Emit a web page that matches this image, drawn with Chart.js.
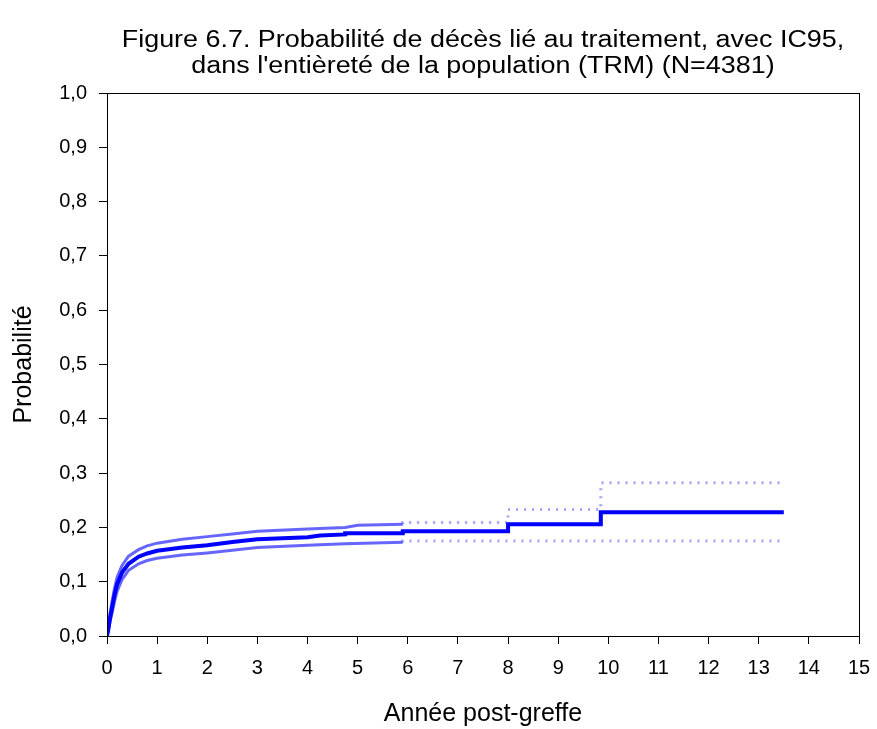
<!DOCTYPE html>
<html>
<head>
<meta charset="utf-8">
<script src="https://cdn.jsdelivr.net/npm/chart.js@4"></script>
<style>
  body { margin: 0; background: #ffffff; }
  canvas { display: block; }
</style>
</head>
<body>
<canvas id="trm_chart" width="877" height="729"></canvas>
<script>
// titre du graphique
const titleLines = [
    'Figure 6.7. Probabilité de décès lié au traitement, avec IC95,',
    "dans l'entièreté de la population (TRM) (N=4381)"
];

// axes
const xTicks = [0, 1, 2, 3, 4, 5, 6, 7, 8, 9, 10, 11, 12, 13, 14, 15];
const yTicks = [0, 0.1, 0.2, 0.3, 0.4, 0.5, 0.6, 0.7, 0.8, 0.9, 1.0];

// estimation TRM (années post-greffe, probabilité)
const trmT = [0, 0.03, 0.06, 0.1, 0.15, 0.2, 0.3, 0.43, 0.63, 0.8, 1.0, 1.5, 2.0, 2.5, 3.0, 3.5, 4.0, 4.25, 4.75, 4.75, 5.9, 5.9, 8.0, 8.0, 9.85, 9.85, 13.5];
const trmP = [0, 0.015, 0.033, 0.052, 0.076, 0.095, 0.117, 0.133, 0.146, 0.152, 0.157, 0.163, 0.167, 0.173, 0.178, 0.180, 0.182, 0.185, 0.187, 0.189, 0.189, 0.193, 0.193, 0.206, 0.206, 0.228, 0.228];

// IC95 borne supérieure
const upperT = [0, 0.03, 0.06, 0.1, 0.15, 0.2, 0.3, 0.43, 0.63, 0.8, 1.0, 1.5, 2.0, 2.5, 3.0, 4.0, 4.75, 5.0, 5.9, 5.9, 8.0, 8.0, 9.85, 9.85, 13.5];
const upperP = [0, 0.02, 0.042, 0.063, 0.088, 0.108, 0.13, 0.147, 0.159, 0.166, 0.171, 0.178, 0.183, 0.188, 0.193, 0.197, 0.200, 0.204, 0.206, 0.209, 0.209, 0.233, 0.233, 0.282, 0.282];

// IC95 borne inférieure
const lowerT = [0, 0.03, 0.06, 0.1, 0.15, 0.2, 0.3, 0.43, 0.63, 0.8, 1.0, 1.5, 2.0, 2.5, 3.0, 4.0, 4.75, 5.9, 5.9, 13.5];
const lowerP = [0, 0.011, 0.026, 0.042, 0.063, 0.082, 0.104, 0.121, 0.133, 0.139, 0.143, 0.149, 0.153, 0.158, 0.163, 0.167, 0.170, 0.1725, 0.175, 0.175];

const toPoints = (ts, ps) => ts.map((t, i) => ({ x: t, y: ps[i] }));

// après ~6 ans les bornes ne sont plus que des points épars
const ciSegment = {
    borderDash: ctx => ctx.p0.parsed.x >= 5.9 ? [2, 6] : undefined,
    borderColor: ctx => ctx.p0.parsed.x >= 5.9 ? 'rgba(70,70,255,0.5)' : undefined
};

const FONT = '"Liberation Sans", Arial, sans-serif';

// cadre autour de la zone de tracé + titre (police un peu élargie)
const framePlugin = {
    id: 'frame',
    afterDraw(chart) {
        const { ctx, chartArea: a } = chart;
        ctx.save();
        ctx.strokeStyle = '#000';
        ctx.lineWidth = 1;
        ctx.strokeRect(a.left + 0.5, a.top + 0.5, a.right - a.left, a.bottom - a.top);
        const cx = (a.left + a.right) / 2;
        const sx = 1.17;
        ctx.translate(cx, 0);
        ctx.scale(sx, 1);
        ctx.fillStyle = '#000';
        ctx.font = '23px ' + FONT;
        ctx.textAlign = 'center';
        ctx.textBaseline = 'alphabetic';
        ctx.fillText(titleLines[0], 0, 47);
        ctx.fillText(titleLines[1], 0, 73);
        ctx.restore();
    }
};

const ctx = document.getElementById('trm_chart').getContext('2d');
new Chart(ctx, {
    type: 'line',
    data: {
        datasets: [
            {
                label: 'IC95 sup',
                data: toPoints(upperT, upperP),
                borderColor: 'rgba(0,0,255,0.6)',
                borderWidth: 3,
                pointRadius: 0,
                segment: ciSegment
            },
            {
                label: 'IC95 inf',
                data: toPoints(lowerT, lowerP),
                borderColor: 'rgba(0,0,255,0.6)',
                borderWidth: 3,
                pointRadius: 0,
                segment: ciSegment
            },
            {
                label: 'TRM',
                data: toPoints(trmT, trmP),
                borderColor: '#0000ff',
                borderWidth: 4,
                pointRadius: 0
            }
        ]
    },
    options: {
        responsive: false,
        animation: false,
        layout: { padding: { top: 93, right: 18, left: 0, bottom: 0 } },
        plugins: {
            legend: { display: false },
            tooltip: { enabled: false }
        },
        scales: {
            x: {
                type: 'linear',
                min: 0,
                max: 15,
                afterFit: s => {
                    s.height = 93;
                    s.paddingLeft = 0;
                    s.paddingRight = 0;
                },
                afterBuildTicks: s => { s.ticks = xTicks.map(v => ({ value: v })); },
                ticks: {
                    color: '#000',
                    padding: 12,
                    maxRotation: 0,
                    font: { family: FONT, size: 20 }
                },
                grid: { drawOnChartArea: false, drawTicks: true, tickLength: 8, color: '#000' },
                border: { color: '#000', width: 1 },
                title: {
                    display: true,
                    text: 'Année post-greffe',
                    color: '#000',
                    font: { family: FONT, size: 25 },
                    padding: { top: 0, bottom: 0 }
                }
            },
            y: {
                min: 0,
                max: 1,
                afterFit: s => { s.width = 107; },
                afterBuildTicks: s => { s.ticks = yTicks.map(v => ({ value: v })); },
                ticks: {
                    color: '#000',
                    padding: 12,
                    font: { family: FONT, size: 20 },
                    callback: v => v.toFixed(1).replace('.', ',')
                },
                grid: { drawOnChartArea: false, drawTicks: true, tickLength: 8, color: '#000' },
                border: { color: '#000', width: 1 },
                title: {
                    display: true,
                    text: 'Probabilité',
                    color: '#000',
                    font: { family: FONT, size: 25 },
                    padding: { top: 9, bottom: 0 }
                }
            }
        }
    },
    plugins: [framePlugin]
});
</script>
</body>
</html>
